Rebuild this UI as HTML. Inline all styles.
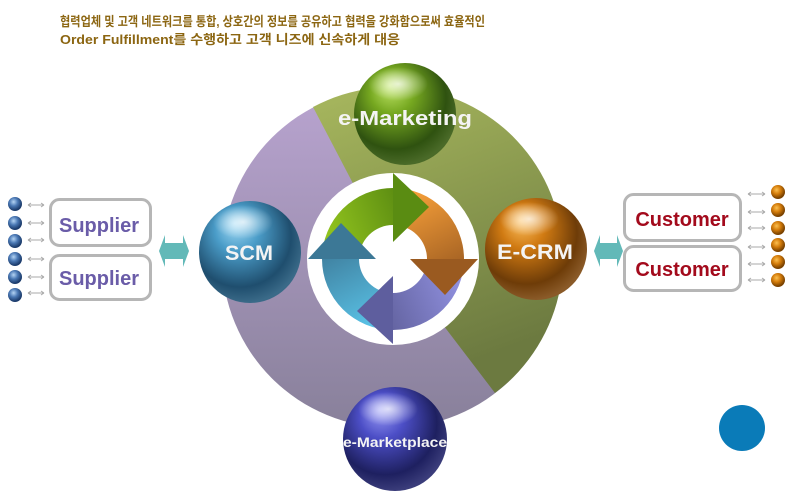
<!DOCTYPE html>
<html><head><meta charset="utf-8"><style>
html,body{margin:0;padding:0;background:#fff;}
svg{display:block;}
</style></head><body>
<svg width="790" height="497" viewBox="0 0 790 497" xmlns="http://www.w3.org/2000/svg">
<defs>
<linearGradient id="gPur" x1="0" y1="0" x2="0" y2="1"><stop offset="0" stop-color="#b9a4d0"/><stop offset="1" stop-color="#88809a"/></linearGradient>
<linearGradient id="gGrn" x1="0" y1="0" x2="0.3" y2="1"><stop offset="0" stop-color="#a8b85e"/><stop offset="1" stop-color="#6c7a40"/></linearGradient>
<linearGradient id="aG" gradientUnits="userSpaceOnUse" x1="330" y1="245" x2="430" y2="205"><stop offset="0" stop-color="#92c41e"/><stop offset="1" stop-color="#4c7c0e"/></linearGradient>
<linearGradient id="aO" gradientUnits="userSpaceOnUse" x1="415" y1="195" x2="465" y2="295"><stop offset="0" stop-color="#f29c38"/><stop offset="1" stop-color="#8a4e1c"/></linearGradient>
<linearGradient id="aP" gradientUnits="userSpaceOnUse" x1="465" y1="275" x2="360" y2="320"><stop offset="0" stop-color="#9494e4"/><stop offset="1" stop-color="#56568e"/></linearGradient>
<linearGradient id="aB" gradientUnits="userSpaceOnUse" x1="385" y1="335" x2="330" y2="225"><stop offset="0" stop-color="#5ecdf2"/><stop offset="1" stop-color="#386e8c"/></linearGradient>
<radialGradient id="sG" cx="0.42" cy="0.38" r="0.62" fx="0.35" fy="0.22"><stop offset="0" stop-color="#c2e86a"/><stop offset="0.35" stop-color="#76a820"/><stop offset="0.8" stop-color="#2f5210"/><stop offset="1" stop-color="#4a6a28"/></radialGradient>
<radialGradient id="sB" cx="0.42" cy="0.38" r="0.62" fx="0.35" fy="0.22"><stop offset="0" stop-color="#a4dcf6"/><stop offset="0.35" stop-color="#4a9cc8"/><stop offset="0.8" stop-color="#1f4e6e"/><stop offset="1" stop-color="#3a6a88"/></radialGradient>
<radialGradient id="sO" cx="0.42" cy="0.38" r="0.62" fx="0.35" fy="0.22"><stop offset="0" stop-color="#fcc060"/><stop offset="0.35" stop-color="#d07a12"/><stop offset="0.8" stop-color="#6e3c08"/><stop offset="1" stop-color="#8a5a28"/></radialGradient>
<radialGradient id="sV" cx="0.42" cy="0.38" r="0.62" fx="0.35" fy="0.22"><stop offset="0" stop-color="#9a9cf6"/><stop offset="0.35" stop-color="#4c4ec6"/><stop offset="0.8" stop-color="#1e2060"/><stop offset="1" stop-color="#3a3c7a"/></radialGradient>
<radialGradient id="hl" cx="0.5" cy="0.5" r="0.5"><stop offset="0" stop-color="#fff" stop-opacity="0.75"/><stop offset="1" stop-color="#fff" stop-opacity="0"/></radialGradient>
<radialGradient id="smB" cx="0.4" cy="0.35" r="0.6"><stop offset="0" stop-color="#b4d4f4"/><stop offset="0.5" stop-color="#4a78b4"/><stop offset="1" stop-color="#1c3c6c"/></radialGradient>
<radialGradient id="smO" cx="0.4" cy="0.35" r="0.6"><stop offset="0" stop-color="#fcc050"/><stop offset="0.5" stop-color="#d47c0a"/><stop offset="1" stop-color="#7a4200"/></radialGradient>
</defs>

<!-- title -->
<text x="60" y="26" font-family="Liberation Sans, Noto Sans CJK KR, sans-serif" font-size="13" font-weight="bold" fill="#8c6612" textLength="425" lengthAdjust="spacingAndGlyphs">협력업체 및 고객 네트워크를 통합, 상호간의 정보를 공유하고 협력을 강화함으로써 효율적인</text>
<text x="60" y="44" font-family="Liberation Sans, Noto Sans CJK KR, sans-serif" font-size="13" font-weight="bold" fill="#8c6612" textLength="340" lengthAdjust="spacingAndGlyphs">Order Fulfillment를 수행하고 고객 니즈에 신속하게 대응</text>

<!-- big circle -->
<circle cx="392" cy="258" r="170" fill="url(#gPur)"/>
<path d="M392,258 L313,107 A170,170 0 0,1 495,393 Z" fill="url(#gGrn)"/>
<circle cx="393" cy="259" r="86" fill="#fff"/>

<!-- cycle arrow bodies -->
<path d="M322,259 A71,71 0 0,1 393,188 L393,225 A34,34 0 0,0 359,259 Z" fill="url(#aG)"/>
<path d="M393,188 A71,71 0 0,1 464,259 L427,259 A34,34 0 0,0 393,225 Z" fill="url(#aO)"/>
<path d="M464,259 A71,71 0 0,1 393,330 L393,293 A34,34 0 0,0 427,259 Z" fill="url(#aP)"/>
<path d="M393,330 A71,71 0 0,1 322,259 L359,259 A34,34 0 0,0 393,293 Z" fill="url(#aB)"/>
<!-- heads -->
<polygon points="393,173 429,207 393,242" fill="#5a8c12"/>
<polygon points="478,259 445,295 410,259" fill="#9a5a20"/>
<polygon points="393,344 357,311 393,276" fill="#5e5e9e"/>
<polygon points="308,259 341,223 376,259" fill="#3c7896"/>

<!-- spheres -->
<g>
<circle cx="405" cy="114" r="51" fill="url(#sG)"/>
<ellipse cx="398" cy="84" rx="30" ry="17" fill="url(#hl)"/>
</g>
<g>
<circle cx="250" cy="252" r="51" fill="url(#sB)"/>
<ellipse cx="243" cy="222" rx="30" ry="17" fill="url(#hl)"/>
</g>
<g>
<circle cx="536" cy="249" r="51" fill="url(#sO)"/>
<ellipse cx="529" cy="219" rx="30" ry="17" fill="url(#hl)"/>
</g>
<g>
<circle cx="395" cy="439" r="52" fill="url(#sV)"/>
<ellipse cx="388" cy="409" rx="30" ry="17" fill="url(#hl)"/>
</g>

<g font-family="Liberation Sans, sans-serif" font-weight="bold" fill="#f4f4f4">
<text x="405" y="125" font-size="20" text-anchor="middle" textLength="134" lengthAdjust="spacingAndGlyphs">e-Marketing</text>
<text x="249" y="260" font-size="21" text-anchor="middle" textLength="48" lengthAdjust="spacingAndGlyphs">SCM</text>
<text x="535" y="259" font-size="21" text-anchor="middle" textLength="76" lengthAdjust="spacingAndGlyphs">E-CRM</text>
<text x="395" y="447" font-size="14" text-anchor="middle" textLength="104" lengthAdjust="spacingAndGlyphs">e-Marketplace</text>
</g>

<!-- supplier boxes -->
<rect x="50.5" y="199.5" width="100" height="46" rx="9" fill="#fff" stroke="#b6b6b6" stroke-width="3"/>
<rect x="50.5" y="255.5" width="100" height="44" rx="9" fill="#fff" stroke="#b6b6b6" stroke-width="3"/>
<g font-family="Liberation Sans, sans-serif" font-weight="bold" font-size="20" fill="#6a5ca8" text-anchor="middle">
<text x="99" y="232">Supplier</text>
<text x="99" y="285">Supplier</text>
</g>

<!-- customer boxes -->
<rect x="624.5" y="194.5" width="116" height="46" rx="9" fill="#fff" stroke="#b6b6b6" stroke-width="3"/>
<rect x="624.5" y="246.5" width="116" height="44" rx="9" fill="#fff" stroke="#b6b6b6" stroke-width="3"/>
<g font-family="Liberation Sans, sans-serif" font-weight="bold" font-size="20" fill="#a30a1c" text-anchor="middle">
<text x="682" y="226">Customer</text>
<text x="682" y="276">Customer</text>
</g>

<!-- teal double arrows -->
<polygon points="159,251 165,235 165,243 183,243 183,235 189,251 183,267 183,259 165,259 165,267" fill="#62b9b8"/>
<polygon points="594,251 600,235 600,243 617,243 617,235 623,251 617,267 617,259 600,259 600,267" fill="#62b9b8"/>

<!-- small spheres left -->
<g fill="url(#smB)">
<circle cx="15" cy="204" r="7"/><circle cx="15" cy="223" r="7"/><circle cx="15" cy="241" r="7"/>
<circle cx="15" cy="259" r="7"/><circle cx="15" cy="277" r="7"/><circle cx="15" cy="295" r="7"/>
</g>
<g stroke="#aaa" stroke-width="1" fill="none">
<path d="M28,205 H44 M28,205 l3,-2 M28,205 l3,2 M44,205 l-3,-2 M44,205 l-3,2"/>
<path d="M28,223 H44 M28,223 l3,-2 M28,223 l3,2 M44,223 l-3,-2 M44,223 l-3,2"/>
<path d="M28,240 H44 M28,240 l3,-2 M28,240 l3,2 M44,240 l-3,-2 M44,240 l-3,2"/>
<path d="M28,259 H44 M28,259 l3,-2 M28,259 l3,2 M44,259 l-3,-2 M44,259 l-3,2"/>
<path d="M28,277 H44 M28,277 l3,-2 M28,277 l3,2 M44,277 l-3,-2 M44,277 l-3,2"/>
<path d="M28,293 H44 M28,293 l3,-2 M28,293 l3,2 M44,293 l-3,-2 M44,293 l-3,2"/>
</g>

<!-- small spheres right -->
<g fill="url(#smO)">
<circle cx="778" cy="192" r="7"/><circle cx="778" cy="210" r="7"/><circle cx="778" cy="228" r="7"/>
<circle cx="778" cy="245" r="7"/><circle cx="778" cy="262" r="7"/><circle cx="778" cy="280" r="7"/>
</g>
<g stroke="#aaa" stroke-width="1" fill="none">
<path d="M748,194 H765 M748,194 l3,-2 M748,194 l3,2 M765,194 l-3,-2 M765,194 l-3,2"/>
<path d="M748,212 H765 M748,212 l3,-2 M748,212 l3,2 M765,212 l-3,-2 M765,212 l-3,2"/>
<path d="M748,228 H765 M748,228 l3,-2 M748,228 l3,2 M765,228 l-3,-2 M765,228 l-3,2"/>
<path d="M748,247 H765 M748,247 l3,-2 M748,247 l3,2 M765,247 l-3,-2 M765,247 l-3,2"/>
<path d="M748,264 H765 M748,264 l3,-2 M748,264 l3,2 M765,264 l-3,-2 M765,264 l-3,2"/>
<path d="M748,280 H765 M748,280 l3,-2 M748,280 l3,2 M765,280 l-3,-2 M765,280 l-3,2"/>
</g>

<!-- blue dot -->
<circle cx="742" cy="428" r="23" fill="#0a7bb8"/>
</svg>
</body></html>
